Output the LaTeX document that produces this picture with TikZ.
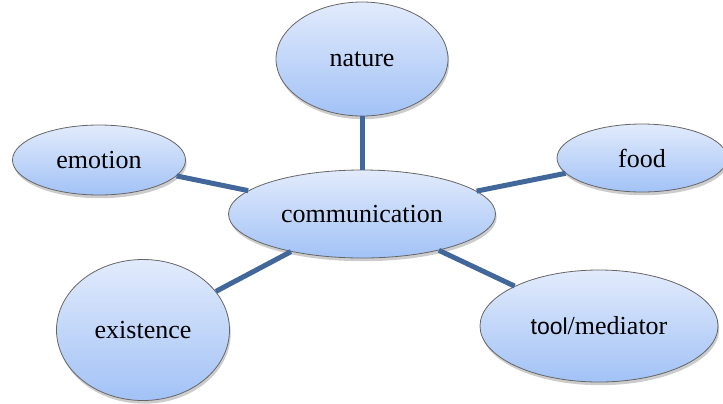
\documentclass[tikz,border=0pt]{standalone}
\usepackage{fontspec}
\setmainfont{Liberation Serif}
\setsansfont{Liberation Sans}
\usetikzlibrary{shapes.geometric,shadows}
\definecolor{bubbletop}{HTML}{E2EBFC}
\definecolor{bubblebottom}{HTML}{A2C2F6}
\definecolor{spokecol}{HTML}{42679A}

\begin{document}
\begin{tikzpicture}[x=0.5pt,y=-0.5pt,
    bubble/.style={ellipse,draw=black!60,line width=0.4pt,inner sep=0pt,
      top color=bubbletop,bottom color=bubblebottom,
      drop shadow={opacity=0.4,shadow xshift=0.6pt,shadow yshift=-1.6pt},
      font=\fontsize{13}{15}\selectfont},
    spoke/.style={line width=2.5pt,draw=spokecol}]
  \useasboundingbox (0,0) rectangle (723,403);

  \node[bubble,minimum width=133.5pt,minimum height=44pt] (comm) at (362,214) {communication};
  \node[bubble,minimum width=86pt,minimum height=57pt] (nature) at (362,59) {nature};
  \node[bubble,minimum width=86.5pt,minimum height=35pt] (emotion) at (99,160) {emotion};
  \node[bubble,minimum width=85pt,minimum height=34pt] (food) at (642,158) {food};
  \node[bubble,minimum width=86.5pt,minimum height=70.5pt] (existence) at (143,330) {existence};
  \node[bubble,minimum width=119pt,minimum height=56pt] (tool) at (599,326) {{\sffamily\fontsize{11.5}{14}\selectfont tool}/mediator};

  \draw[spoke] (comm) -- (nature);
  \draw[spoke] (comm) -- (emotion);
  \draw[spoke] (comm) -- (food);
  \draw[spoke] (comm) -- (existence);
  \draw[spoke] (comm) -- (tool);
\end{tikzpicture}
\end{document}
